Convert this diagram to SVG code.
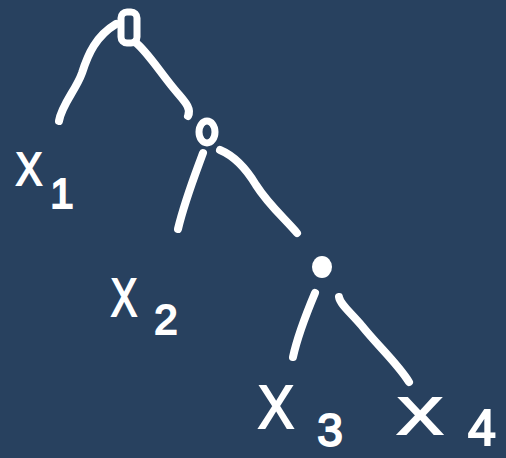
<svg xmlns="http://www.w3.org/2000/svg" width="506" height="458" viewBox="0 0 506 458">
<style>
.ln{fill:none;stroke:#fff;stroke-width:8;stroke-linecap:round;stroke-linejoin:round}
.nd{fill:none;stroke:#fff;stroke-width:7}
.lb{fill:#fff;stroke:#fff;stroke-width:2;font-family:"Liberation Sans",Arial,sans-serif;text-anchor:middle}
</style>
<rect width="506" height="458" fill="#28415f"/>
<g id="connectors">
<path class="ln" d="M116,24 C96,36 88,54 82,73 C76,90 62,104 59,121"/>
<path class="ln" d="M135,42 C146,50 160,72 175,90 C184,101 192,108 188,116"/>
<path class="ln" d="M203,153 C195,175 185,200 178,229"/>
<path class="ln" d="M220,150 C232,155 244,165 256,185 C268,204 284,218 297,233"/>
<path class="ln" d="M315,293 C307,312 298,334 293,357"/>
<path class="ln" d="M339,297 C340,304 350,312 362,326 C378,346 398,364 409,382"/>
</g>
<g id="root"><rect class="nd" x="121" y="12" width="16" height="31" rx="6"/></g>
<g id="n2"><ellipse class="nd" cx="207" cy="132" rx="8" ry="11"/></g>
<g id="n3"><ellipse cx="322" cy="267" rx="10" ry="11" fill="#fff"/></g>
<g id="x1"><text class="lb" x="29" y="185" font-size="46" textLength="26" lengthAdjust="spacingAndGlyphs">X</text><text class="lb" x="62" y="208" font-size="42">1</text></g>
<g id="x2"><text class="lb" x="124" y="316" font-size="54" textLength="26" lengthAdjust="spacingAndGlyphs">X</text><text class="lb" x="166" y="334" font-size="42">2</text></g>
<g id="x3"><text class="lb" x="276" y="428" font-size="62" textLength="36" lengthAdjust="spacingAndGlyphs">X</text><text class="lb" x="330" y="446" font-size="46">3</text></g>
<g id="x4"><text class="lb" x="420" y="434" font-size="52" textLength="46" lengthAdjust="spacingAndGlyphs">X</text><text class="lb" x="482" y="445" font-size="50">4</text></g>
</svg>
